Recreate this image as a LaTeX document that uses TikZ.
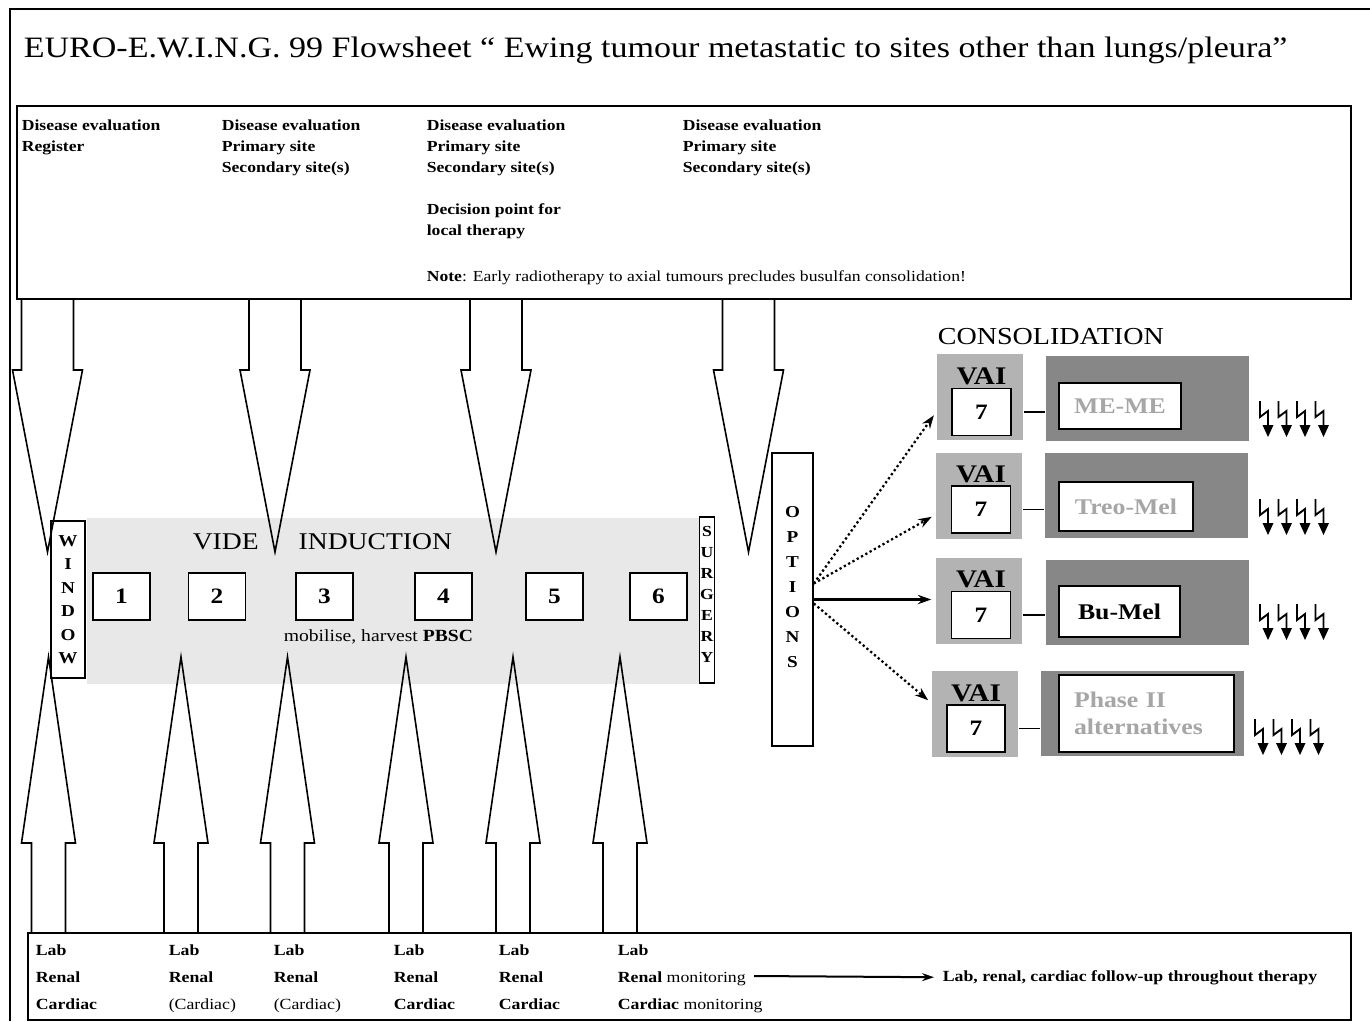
\documentclass[tikz,border=0pt]{standalone}
\usepackage{fontspec}
\setmainfont{Liberation Serif}[FakeStretch=1.15]
\usetikzlibrary{arrows.meta}

\definecolor{indgray}{HTML}{E8E8E8}
\definecolor{vaigray}{HTML}{B3B3B3}
\definecolor{consgray}{HTML}{878787}
\definecolor{txtgray}{HTML}{A6A6A6}

\begin{document}
\begin{tikzpicture}[x=0.75pt,y=-0.75pt,line width=1.2pt,
  every node/.style={inner sep=0pt},
  numbox/.style={draw,fill=white,minimum width=57*0.75pt,minimum height=47*0.75pt,font=\fontsize{16.5}{18}\selectfont\bfseries},
  evaltext/.style={anchor=north west,align=left,font=\fontsize{11.5}{15.75}\selectfont\bfseries},
  labtext/.style={anchor=north west,align=left,font=\fontsize{11.6}{20.25}\selectfont},
  letters/.style={align=center,font=\fontsize{12.5}{17.6}\selectfont\bfseries},
  vaibox/.style={fill=vaigray,minimum width=86*0.75pt,minimum height=86*0.75pt},
  vailab/.style={anchor=base,font=\fontsize{19}{20}\selectfont\bfseries},
  armbox/.style={fill=consgray,minimum width=203*0.75pt,minimum height=85*0.75pt},
  drugbox/.style={draw,fill=white,text=txtgray,font=\fontsize{16.8}{20.5}\selectfont\bfseries},
  optarrow/.style={dotted,line width=1.7pt,-{Stealth[length=10pt,width=7pt]},shorten >=3pt},
  bolts/.pic={
    \foreach \k in {0,...,3}{
      \begin{scope}[shift={(18.5*\k,0)}]
        \draw[line width=1.4pt] (0,0) -- (0,16) -- (8,10) -- (8,26);
        \fill (2.5,24) -- (13.5,24) -- (8,36) -- cycle;
      \end{scope}}
  }]
\useasboundingbox (0,0) rectangle (1370,1021);
\fill[white] (0,0) rectangle (1370,1021);

% outer frame and title
\draw[line width=1.6pt] (10,1021) -- (10,9) -- (1370,9);
\node[anchor=base west,font=\fontsize{22.2}{26}\selectfont] (title) at (23,57)
  {EURO-E.W.I.N.G. 99 Flowsheet “ Ewing tumour metastatic to sites other than lungs/pleura”};

% evaluation box
\node[draw,anchor=north west,minimum width=1334*0.75pt,minimum height=193*0.75pt] (topbox) at (16,105) {};
\node[evaltext] (ev1) at (21,119) {Disease evaluation\\Register};
\node[evaltext] (ev2) at (221,119) {Disease evaluation\\Primary site\\Secondary site(s)};
\node[evaltext] (ev3) at (426,119) {Disease evaluation\\Primary site\\Secondary site(s)\\[15.75pt]Decision point for\\local therapy};
\node[evaltext] (ev4) at (682,119) {Disease evaluation\\Primary site\\Secondary site(s)};
\node[anchor=base west,font=\fontsize{11.5}{14}\selectfont] (note) at (426,281)
  {\textbf{Note}: Early radiotherapy to axial tumours precludes busulfan consolidation!};

% induction
\node[fill=indgray,anchor=north west,minimum width=626*0.75pt,minimum height=166*0.75pt] (induct) at (86,517) {};
\node[anchor=base west,font=\fontsize{18}{22}\selectfont] (vide) at (192,549) {VIDE\hspace*{30pt}INDUCTION};
\node[draw,fill=white,minimum width=34*0.75pt,minimum height=157*0.75pt] (win) at (68,599.5) {};
\node[letters] at (win.center) {W\\I\\N\\D\\O\\W};
\node[numbox] (b1) at (121.5,596.5) {1};
\node[numbox] (b2) at (217,596.5) {2};
\node[numbox] (b3) at (324.5,596.5) {3};
\node[numbox] (b4) at (443.5,596.5) {4};
\node[numbox] (b5) at (554.5,596.5) {5};
\node[numbox] (b6) at (658.5,596.5) {6};
\node[anchor=base west,font=\fontsize{12.8}{15}\selectfont] (pbsc) at (283,641) {mobilise, harvest \textbf{PBSC}};
\node[draw,fill=white,minimum width=15*0.75pt,minimum height=166*0.75pt] (surg) at (707,600) {};
\node[letters,font=\fontsize{11.5}{15.75}\selectfont\bfseries] at (707,594.5) {S\\U\\R\\G\\E\\R\\Y};
\node[draw,fill=white,minimum width=41*0.75pt,minimum height=293*0.75pt] (opt) at (792.5,599.5) {};
\node[letters,font=\fontsize{12.5}{18.75}\selectfont\bfseries] at (792.5,587) {O\\P\\T\\I\\O\\N\\S};

% block arrows
\foreach \c in {47.5,275,496,748.5}
  \draw (\c-26,298) -- ++(0,72) -- ++(-9,0) -- (\c,552) -- (\c+35,370) -- ++(-9,0) -- ++(0,-72);
\foreach \c in {48.5,181,287.5,406,513,620}
  \draw (\c-17,932) -- ++(0,-89) -- ++(-10,0) -- (\c,657) -- (\c+27,843) -- ++(-10,0) -- ++(0,89);

% consolidation
\node[anchor=base west,font=\fontsize{18.3}{20}\selectfont] (cons) at (937,344) {CONSOLIDATION};

\node[vaibox] (vai1) at (980,396.5) {};
\node[numbox,minimum width=59*0.75pt] (seven1) at (981.5,412) {7};
\node[vailab] at ([yshift=2.25pt]seven1.north) {VAI};
\node[armbox] (arm1) at (1147.5,398.5) {};
\node[drugbox,minimum width=122*0.75pt,minimum height=46*0.75pt] (drug1) at (1120,406) {ME-ME};
\draw (seven1.east -| vai1.east) -- (seven1.east -| arm1.west);
\pic at (1260,401) {bolts};

\node[vaibox] (vai2) at (979,496) {};
\node[numbox,minimum width=59*0.75pt] (seven2) at (981,509.5) {7};
\node[vailab] at ([yshift=2.25pt]seven2.north) {VAI};
\node[armbox] (arm2) at (1146.5,495.5) {};
\node[drugbox,minimum width=134*0.75pt,minimum height=49*0.75pt] (drug2) at (1126,506.5) {Treo-Mel};
\draw (seven2.east -| vai2.east) -- (seven2.east -| arm2.west);
\pic at (1260,499) {bolts};

\node[vaibox] (vai3) at (979,601) {};
\node[numbox,minimum width=59*0.75pt] (seven3) at (981,615) {7};
\node[vailab] at ([yshift=2.25pt]seven3.north) {VAI};
\node[armbox] (arm3) at (1147.5,602.5) {};
\node[drugbox,text=black,minimum width=121*0.75pt,minimum height=51*0.75pt] (drug3) at (1119.5,611.5) {Bu-Mel};
\draw (seven3.east -| vai3.east) -- (seven3.east -| arm3.west);
\pic at (1260,604) {bolts};

\node[vaibox] (vai4) at (975,713.5) {};
\node[numbox,minimum width=58*0.75pt] (seven4) at (976,728.5) {7};
\node[vailab] at ([yshift=2.25pt]seven4.north) {VAI};
\node[armbox] (arm4) at (1142.5,713.5) {};
\node[drugbox,align=left,text width=145*0.75pt,inner xsep=15*0.75pt,minimum height=77*0.75pt] (drug4) at (1146.5,713.5) {Phase II\\alternatives};
\draw (seven4.east -| vai4.east) -- (seven4.east -| arm4.west);
\pic at (1255,719) {bolts};

% options
\draw[optarrow] ([yshift=12pt]opt.east) -- (seven1.east -| vai1.west);
\draw[optarrow] ([yshift=12pt]opt.east) -- ([yshift=-4pt]seven2.east -| vai2.west);
\draw[line width=2pt,-{Stealth[length=10pt,width=7pt]},shorten >=3pt] (opt.east) -- (opt.east -| vai3.west);
\draw[optarrow] ([yshift=-3pt]opt.east) -- ([yshift=8pt]vai4.west);

% monitoring box
\node[draw,anchor=north west,minimum width=1323*0.75pt,minimum height=87*0.75pt] (botbox) at (27,932) {};
\node[labtext,font=\fontsize{11.6}{20.25}\selectfont\bfseries] at (35,943.5) {Lab\\Renal\\Cardiac};
\node[labtext] at (168,943.5) {\textbf{Lab}\\\textbf{Renal}\\(Cardiac)};
\node[labtext] at (273,943.5) {\textbf{Lab}\\\textbf{Renal}\\(Cardiac)};
\node[labtext,font=\fontsize{11.6}{20.25}\selectfont\bfseries] at (393,943.5) {Lab\\Renal\\Cardiac};
\node[labtext,font=\fontsize{11.6}{20.25}\selectfont\bfseries] at (498,943.5) {Lab\\Renal\\Cardiac};
\node[labtext] at (617,943.5) {\textbf{Lab}\\\textbf{Renal} monitoring\\\textbf{Cardiac} monitoring};
\coordinate (mon) at (754,976);
\node[anchor=base west,font=\fontsize{11.6}{14}\selectfont\bfseries] (follow) at (942,981) {Lab, renal, cardiac follow-up throughout therapy};
\draw[line width=1.5pt,-{Stealth[length=9pt,width=6pt]},shorten >=6pt] (mon) -- (follow.west);
\end{tikzpicture}
\end{document}
